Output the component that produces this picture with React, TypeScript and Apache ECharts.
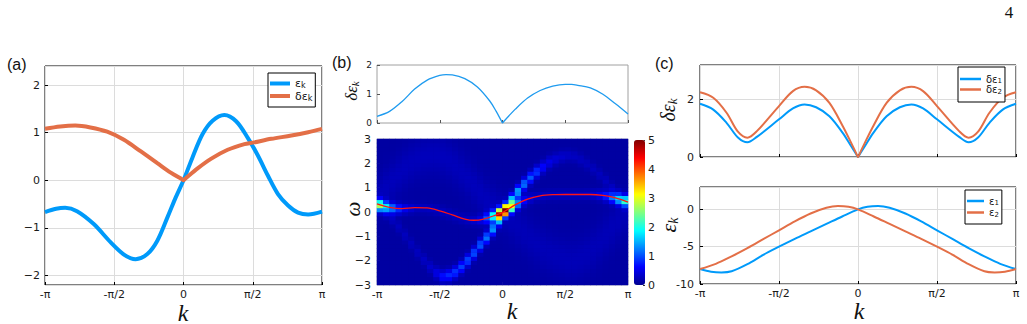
import React, { useEffect, useRef } from 'react';
import * as echarts from 'echarts';

// k values are stored in units of π (−1 … 1).

// ---------- panel (a): band energy ε_k and gap δε_k ----------
const aEpsK = [-1, -0.92, -0.854, -0.769, -0.648, -0.527, -0.43, -0.346, -0.261, -0.189, -0.116, -0.056, 0, 0.065, 0.138, 0.21, 0.295, 0.38, 0.464, 0.537, 0.609, 0.682, 0.755, 0.827, 0.9, 1];
const aEps = [-0.67, -0.6, -0.58, -0.65, -0.92, -1.3, -1.56, -1.66, -1.55, -1.27, -0.78, -0.36, 0, 0.48, 0.97, 1.25, 1.37, 1.24, 0.89, 0.52, 0.1, -0.29, -0.53, -0.68, -0.72, -0.66];
const aGapK = [-1, -0.89, -0.781, -0.672, -0.551, -0.43, -0.31, -0.189, -0.092, -0.01, 0, 0.01, 0.102, 0.198, 0.319, 0.44, 0.5, 0.634, 0.779, 0.9, 1];
const aGap = [1.08, 1.13, 1.15, 1.11, 1.02, 0.85, 0.61, 0.36, 0.16, 0.018, 0, 0.025, 0.25, 0.45, 0.64, 0.76, 0.79, 0.87, 0.94, 1.01, 1.08];

// ---------- panel (b), top: δε_k ----------
const bGapK = [-1, -0.9, -0.8, -0.7, -0.6, -0.5, -0.45, -0.4, -0.3, -0.2, -0.1, -0.05, -0.01, 0, 0.01, 0.05, 0.1, 0.2, 0.3, 0.4, 0.5, 0.55, 0.6, 0.7, 0.8, 0.9, 1];
const bGap = [0.23, 0.4, 0.74, 1.17, 1.48, 1.64, 1.67, 1.66, 1.53, 1.24, 0.75, 0.4, 0.08, 0, 0.05, 0.24, 0.47, 0.86, 1.12, 1.27, 1.33, 1.33, 1.3, 1.21, 0.99, 0.66, 0.31];

// ---------- panel (b), bottom: spectral weight and dispersion ----------
const bDispK = [-1, -0.9, -0.8, -0.7, -0.6, -0.5, -0.4, -0.3, -0.23, -0.15, -0.05, 0, 0.1, 0.2, 0.3, 0.4, 0.5, 0.6, 0.7, 0.8, 0.9, 1];
const bDisp = [0.33, 0.19, 0.14, 0.18, 0.17, 0.05, -0.12, -0.29, -0.34, -0.29, -0.12, -0.02, 0.29, 0.53, 0.66, 0.71, 0.72, 0.72, 0.72, 0.68, 0.58, 0.41];

// column centres of the spectral map
const hmK = [-0.975, -0.925, -0.875, -0.825, -0.775, -0.725, -0.675, -0.625, -0.575, -0.525, -0.475, -0.425, -0.375, -0.325, -0.275, -0.225, -0.175, -0.125, -0.075, -0.025, 0.025, 0.075, 0.125, 0.175, 0.225, 0.275, 0.325, 0.375, 0.425, 0.475, 0.525, 0.575, 0.625, 0.675, 0.725, 0.775, 0.825, 0.875, 0.925, 0.975];
// main quasiparticle ridge: position and peak weight per column
const hmMainW = [0.29, 0.22, 0.16, 0.14, 0.15, 0.17, 0.19, 0.18, 0.14, 0.08, 0.01, -0.08, -0.17, -0.25, -0.31, -0.34, -0.32, -0.25, -0.16, -0.06, 0.05, 0.2, 0.35, 0.48, 0.57, 0.63, 0.67, 0.7, 0.71, 0.72, 0.72, 0.72, 0.72, 0.72, 0.72, 0.7, 0.66, 0.6, 0.53, 0.45];
const hmMainI = [2.4, 1.7, 1.15, 0.75, 0.45, 0.3, 0.2, 0.18, 0.18, 0.18, 0.18, 0.18, 0.18, 0.18, 0.2, 0.24, 0.4, 0.9, 1.9, 3.9, 4.3, 2.6, 1.2, 0.55, 0.32, 0.2, 0.18, 0.18, 0.18, 0.18, 0.18, 0.18, 0.18, 0.2, 0.28, 0.42, 0.7, 1.1, 1.5, 1.8];
// lower branch (k < 0)
const hmLowW = [0.15, -0.05, -0.3, -0.6, -0.95, -1.3, -1.65, -1.95, -2.25, -2.5, -2.64, -2.6, -2.47, -2.25, -1.98, -1.68, -1.35, -1.05, -0.7, -0.3, null, null, null, null, null, null, null, null, null, null, null, null, null, null, null, null, null, null, null, null];
const hmLowI = [0.2, 0.18, 0.17, 0.16, 0.16, 0.16, 0.17, 0.19, 0.24, 0.38, 0.6, 0.72, 0.78, 0.82, 0.88, 0.92, 0.98, 1.1, 1.25, 1.4, null, null, null, null, null, null, null, null, null, null, null, null, null, null, null, null, null, null, null, null];
// upper branch (k > 0)
const hmUpW = [null, null, null, null, null, null, null, null, null, null, null, null, null, null, null, null, null, null, null, null, 0.15, 0.5, 0.85, 1.15, 1.42, 1.65, 1.85, 2.05, 2.18, 2.28, 2.32, 2.28, 2.15, 1.98, 1.78, 1.55, 1.28, 1.0, 0.75, 0.55];
const hmUpI = [null, null, null, null, null, null, null, null, null, null, null, null, null, null, null, null, null, null, null, null, 1.4, 1.5, 1.35, 1.1, 0.95, 0.8, 0.55, 0.4, 0.3, 0.24, 0.2, 0.18, 0.17, 0.16, 0.16, 0.16, 0.17, 0.18, 0.2, 0.22];
// faint shadow arcs
const hmShadowUpW = [0.7, 1.0, 1.3, 1.55, 1.8, 2.0, 2.15, 2.25, 2.3, 2.3, 2.25, 2.1, 1.9, 1.65, 1.4, 1.1, 0.8, 0.5, 0.25, 0.05, null, null, null, null, null, null, null, null, null, null, null, null, null, null, null, null, null, null, null, null];
const hmShadowLowW = [null, null, null, null, null, null, null, null, null, null, null, null, null, null, null, null, null, null, null, null, -0.1, -0.35, -0.6, -0.85, -1.1, -1.3, -1.5, -1.65, -1.78, -1.88, -1.95, -1.95, -1.88, -1.72, -1.5, -1.25, -0.95, -0.65, -0.35, -0.05];
const shadowUpLevel = 0.14;
const shadowLowLevel = 0.12;
const backgroundLevel = 0.1;
const omegaRowCount = 36;

// ---------- panel (c) ----------
const cGapK = [-1, -0.916, -0.832, -0.76, -0.7, -0.64, -0.5, -0.412, -0.338, -0.265, -0.181, -0.097, -0.044, -0.01, 0, 0.01, 0.044, 0.097, 0.181, 0.265, 0.338, 0.412, 0.5, 0.64, 0.7, 0.76, 0.832, 0.916, 1];
const cGap1 = [1.85, 1.65, 1.19, 0.68, 0.51, 0.7, 1.31, 1.69, 1.83, 1.73, 1.42, 0.84, 0.38, 0.087, 0, 0.087, 0.38, 0.84, 1.42, 1.73, 1.83, 1.69, 1.31, 0.7, 0.51, 0.68, 1.19, 1.65, 1.85];
const cGap2 = [2.25, 2.06, 1.54, 0.88, 0.67, 0.9, 1.77, 2.29, 2.44, 2.32, 1.88, 1.08, 0.5, 0.11, 0, 0.11, 0.5, 1.08, 1.88, 2.32, 2.44, 2.29, 1.77, 0.9, 0.67, 0.88, 1.54, 2.06, 2.25];
const cEps1K = [-1, -0.93, -0.865, -0.8, -0.7, -0.6, -0.5, -0.4, -0.3, -0.2, -0.1, 0, 0.06, 0.127, 0.2, 0.3, 0.4, 0.5, 0.6, 0.7, 0.8, 0.9, 1];
const cEps1 = [-8.0, -8.35, -8.45, -8.3, -7.35, -6.1, -5.0, -3.95, -2.95, -1.95, -0.95, 0, 0.35, 0.45, 0.22, -0.55, -1.6, -2.8, -4.0, -5.2, -6.3, -7.3, -8.0];
const cEps2K = [-1, -0.9, -0.8, -0.7, -0.6, -0.5, -0.4, -0.3, -0.2, -0.127, -0.06, 0, 0.1, 0.2, 0.3, 0.4, 0.5, 0.6, 0.7, 0.8, 0.865, 0.93, 1];
const cEps2 = [-8.0, -7.3, -6.3, -5.2, -4.0, -2.8, -1.6, -0.55, 0.22, 0.45, 0.35, 0, -0.95, -1.95, -2.95, -3.95, -5.0, -6.1, -7.35, -8.3, -8.45, -8.35, -8.0];

const kTickLabels = ['-π', '-π/2', '0', 'π/2', 'π'];

const BLUE = '#009AFA';
const ORANGE = '#E36F47';
const jet = ['#000090', '#0000FF', '#0080FF', '#00FFFF', '#80FF80', '#FFFF00', '#FF8000', '#FF0000', '#800000'];

const pairs = (xs: number[], ys: number[]) => xs.map((x, i) => [x, ys[i]]);
const kLabel = (v: number) => kTickLabels[Math.round((v + 1) * 2)] ?? '';
const minusLabel = (v: number) => (v < 0 ? '\u2212' + Math.abs(v) : String(v));

const SANS = 'DejaVu Sans';
const SERIF = 'Liberation Serif';
const tickText = { fontFamily: SANS, fontSize: 11, color: '#1a1a1a' };

function buildSpectralCells() {
  const rows = Array.from({ length: omegaRowCount }, (_, j) => -3 + ((j + 0.5) * 6) / omegaRowCount);
  const g = (x: number, c: number, s: number) => Math.exp(-((x - c) ** 2) / (2 * s * s));
  const cells: number[][] = [];
  hmK.forEach((_, i) => {
    rows.forEach((w, j) => {
      let v = backgroundLevel + hmMainI[i] * g(w, hmMainW[i], 0.15);
      if (hmLowW[i] != null) v += (hmLowI[i] as number) * g(w, hmLowW[i] as number, 0.17);
      if (hmUpW[i] != null) v += (hmUpI[i] as number) * g(w, hmUpW[i] as number, 0.17);
      if (hmShadowUpW[i] != null) v += shadowUpLevel * g(w, hmShadowUpW[i] as number, 0.55);
      if (hmShadowLowW[i] != null) v += shadowLowLevel * g(w, hmShadowLowW[i] as number, 0.6);
      cells.push([i, j, Math.min(5, v)]);
    });
  });
  return { rows, cells };
}

function kAxis(gridIndex: number, showLabels: boolean, split: boolean, tickColor = '#000') {
  return {
    type: 'value', gridIndex, min: -1, max: 1, interval: 0.5,
    axisLine: { show: false, onZero: false },
    axisTick: { show: true, inside: true, length: 3, lineStyle: { color: tickColor } },
    axisLabel: { show: showLabels, ...tickText, margin: 4, formatter: kLabel },
    splitLine: { show: split, lineStyle: { color: '#dcdcdc', width: 1 } },
  };
}

function valueAxis(gridIndex: number, extra: Record<string, unknown>, tickColor = '#000', labelExtra: Record<string, unknown> = {}, split = false) {
  return {
    type: 'value', gridIndex,
    axisLine: { show: false, onZero: false },
    axisTick: { show: true, inside: true, length: 3, lineStyle: { color: tickColor } },
    axisLabel: { ...tickText, margin: 5, ...labelExtra },
    splitLine: { show: split, lineStyle: { color: '#dcdcdc' } },
    ...extra,
  };
}

function rotatedLabel(x: number, y: number, main: string, sub: string, size: number, subSize: number, shift: number) {
  return {
    type: 'text', x, y, rotation: Math.PI / 2,
    style: {
      text: sub ? `{m|${main}}{s|${sub}}` : `{m|${main}}`,
      align: 'center', verticalAlign: 'middle', fill: '#111',
      rich: {
        m: { fontFamily: SERIF, fontStyle: 'italic', fontSize: size, fill: '#111' },
        s: { fontFamily: SERIF, fontStyle: 'italic', fontSize: subSize, fill: '#111', padding: [shift, 0, 0, 0] },
      },
    },
  };
}

function plainText(x: number, y: number, text: string, font: string, size: number, italic = false, align = 'center') {
  return {
    type: 'text', x, y,
    style: { text, fontFamily: font, fontSize: size, fontStyle: italic ? 'italic' : 'normal', fill: '#111', align, verticalAlign: 'middle' },
  };
}

const legendNames: Record<string, string> = {
  'εk': '{m|ε}{s|k}',
  'δεk': '{m|δε}{s|k}',
  'δε1': '{m|δε}{s|1}',
  'δε2': '{m|δε}{s|2}',
  'ε1': '{m|ε}{s|1}',
  'ε2': '{m|ε}{s|2}',
};

function legendBox(names: string[], left: number, top: number, iw: number, ih: number, fs: number, pad: number[], gap: number) {
  return {
    data: names, left, top, orient: 'vertical', icon: 'rect',
    itemWidth: iw, itemHeight: ih, itemGap: gap, padding: pad,
    backgroundColor: '#fff', borderColor: '#000', borderWidth: 1, borderRadius: 0,
    selectedMode: false,
    formatter: (n: string) => legendNames[n] ?? n,
    textStyle: {
      fontFamily: SANS, fontSize: fs, color: '#111',
      rich: { m: { fontFamily: SANS, fontSize: fs, color: '#111' }, s: { fontFamily: SANS, fontSize: fs - 3, color: '#111', padding: [4, 0, 0, 0] } },
    },
  };
}

export default function App() {
  const ref = useRef<HTMLDivElement>(null);

  useEffect(() => {
    if (!ref.current) return;
    const chart = echarts.init(ref.current, null, { renderer: 'svg' });
    const { rows, cells } = buildSpectralCells();

    const line = (name: string, xs: number[], ys: number[], color: string, width: number, xi: number, yi: number, z = 3) => ({
      name, type: 'line', xAxisIndex: xi, yAxisIndex: yi, data: pairs(xs, ys),
      smooth: 0.33, symbol: 'none', showSymbol: false, color, z,
      lineStyle: { color, width }, emphasis: { disabled: true },
    });

    chart.setOption({
      animation: false,
      backgroundColor: '#fff',
      grid: [
        { left: 45, top: 66, width: 277, height: 219, show: true, borderColor: '#000', borderWidth: 1, backgroundColor: '#fff' },
        { left: 377, top: 65, width: 251, height: 58, show: true, borderColor: '#a0a0a0', borderWidth: 1 },
        { left: 377, top: 139, width: 251, height: 146, show: true, borderColor: '#c8c8c8', borderWidth: 1, backgroundColor: '#000090' },
        { left: 634, top: 140, width: 11, height: 145, show: false },
        { left: 700, top: 65, width: 316, height: 92, show: true, borderColor: '#000', borderWidth: 1 },
        { left: 700, top: 187, width: 316, height: 97, show: true, borderColor: '#000', borderWidth: 1 },
      ],
      xAxis: [
        kAxis(0, true, true),
        kAxis(1, false, false, '#555'),
        kAxis(2, true, false, '#ddd'),
        { type: 'category', gridIndex: 2, data: hmK.map(String), show: false, position: 'top' },
        { type: 'value', gridIndex: 3, min: 0, max: 1, show: false },
        kAxis(4, false, true),
        kAxis(5, true, true),
      ],
      yAxis: [
        valueAxis(0, { min: -2.2, max: 2.4, minInterval: 1, maxInterval: 1 }, '#000', { formatter: minusLabel, showMinLabel: false, showMaxLabel: false }, true),
        valueAxis(1, { min: 0, max: 2, interval: 1 }, '#555', { fontSize: 9 }),
        valueAxis(2, { min: -3, max: 3, interval: 1 }, '#ddd', { formatter: minusLabel, margin: 6 }),
        { type: 'category', gridIndex: 2, data: rows.map((r) => r.toFixed(3)), show: false, position: 'right' },
        valueAxis(3, { min: 0, max: 5, interval: 1, position: 'right', axisTick: { show: true, inside: true, length: 2, lineStyle: { color: '#333' } } }, '#333', { margin: 3 }),
        valueAxis(4, { min: 0, max: 3.2, minInterval: 2, maxInterval: 2 }, '#000', { margin: 6, showMaxLabel: false }, true),
        valueAxis(5, { min: -10, max: 3, interval: 5 }, '#000', { margin: 6, showMaxLabel: false }, true),
      ],
      visualMap: {
        type: 'continuous', min: 0, max: 5, seriesIndex: 3, dimension: 2,
        show: true, calculable: false, orient: 'vertical',
        left: 634, top: 140, itemWidth: 11, itemHeight: 145, padding: 0,
        inRange: { color: jet },
      },
      legend: [
        legendBox(['εk', 'δεk'], 268, 73, 20, 4, 11, [5, 3, 5, 2], 1),
        legendBox(['δε1', 'δε2'], 958, 67, 21, 2.5, 10, [7, 3, 7, 2], 0),
        legendBox(['ε1', 'ε2'], 965, 190, 17, 2.5, 10, [6, 3, 6, 2], 1),
      ],
      series: [
        line('εk', aEpsK, aEps, BLUE, 4, 0, 0),
        line('δεk', aGapK, aGap, ORANGE, 4, 0, 0),
        line('δε(b)', bGapK, bGap, '#1f9bef', 1.3, 1, 1),
        {
          type: 'heatmap', xAxisIndex: 3, yAxisIndex: 3, data: cells,
          itemStyle: { borderWidth: 0 }, emphasis: { disabled: true }, z: 2,
        },
        line('ε(b)', bDispK, bDisp, '#ff1414', 1.3, 2, 2, 5),
        line('δε1', cGapK, cGap1, BLUE, 2, 5, 5),
        line('δε2', cGapK, cGap2, ORANGE, 2, 5, 5),
        line('ε1', cEps1K, cEps1, BLUE, 2, 6, 6),
        line('ε2', cEps2K, cEps2, ORANGE, 2, 6, 6),
      ],
      graphic: [
        plainText(7, 64, '(a)', 'Liberation Sans', 16, false, 'left'),
        plainText(332, 62, '(b)', 'Liberation Sans', 16, false, 'left'),
        plainText(655, 63, '(c)', 'Liberation Sans', 16, false, 'left'),
        plainText(1009, 12, '4', SERIF, 17),
        plainText(183, 312.5, 'k', SERIF, 24, true),
        plainText(512, 311, 'k', SERIF, 24, true),
        plainText(859, 311, 'k', SERIF, 24, true),
        rotatedLabel(351, 91, 'δε', 'k', 17, 11, 8),
        rotatedLabel(352.5, 209, 'ω', '', 21, 11, 0),
        rotatedLabel(668, 110, 'δε', 'k', 20, 13, 9),
        rotatedLabel(668, 225, 'ε', 'k', 22, 14, 10),
      ],
    });

    return () => chart.dispose();
  }, []);

  return <div ref={ref} style={{ position: 'absolute', left: 0, top: 0, width: 1027, height: 324, background: '#fff' }} />;
}
